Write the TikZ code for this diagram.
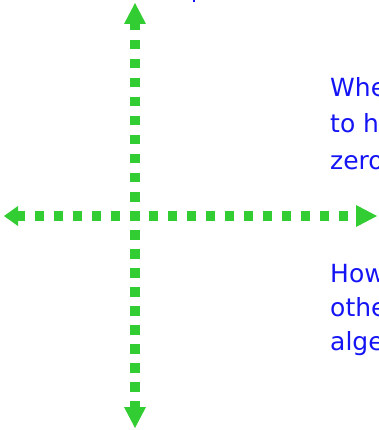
\documentclass[tikz,border=0pt]{standalone}
\usepackage{fontspec}
\setmainfont{DejaVu Sans}
\definecolor{axisgreen}{RGB}{50,205,50}
\definecolor{txtblue}{RGB}{20,20,245}
\tikzset{
  dotline/.style={draw=axisgreen, line width=9.5pt, dash pattern=on 9.5pt off 9.5pt},
  tip/.style={fill=axisgreen},
  lbl/.style={text=txtblue, font=\fontsize{25}{30}\selectfont, anchor=base west, inner sep=0pt}
}
\begin{document}
\begin{tikzpicture}[x=1pt,y=-1pt]
\useasboundingbox (0,0) rectangle (378,430);
\clip (0,0) rectangle (378,430);
% axis ends
\coordinate (vtop) at (135,21);
\coordinate (vbot) at (135,412);
\coordinate (hleft) at (15.5,216);
\coordinate (hright) at (350,216);
\draw[dotline] (vtop) -- (vbot);
\draw[dotline] (hleft) -- (hright);
% arrow heads
\fill[tip] (135,3) -- (146,24) -- (124,24) -- cycle;
\fill[tip] (135,428) -- (146,407) -- (124,407) -- cycle;
\fill[tip] (4,216) -- (18,206) -- (18,226) -- cycle;
\fill[tip] (377,216) -- (356,205) -- (356,227) -- cycle;
% cut-off mark at top
\fill[txtblue] (193,0) rectangle (195,2);
% text
\node[lbl] (t1) at (330,97) {Whe};
\node[lbl] (t2) at (330,133) {to h};
\node[lbl] (t3) at (330,170) {zero};
\node[lbl] (t4) at (330,282) {How};
\node[lbl] (t5) at (330,316) {othe};
\node[lbl] (t6) at (330,350) {alge};
\end{tikzpicture}
\end{document}
